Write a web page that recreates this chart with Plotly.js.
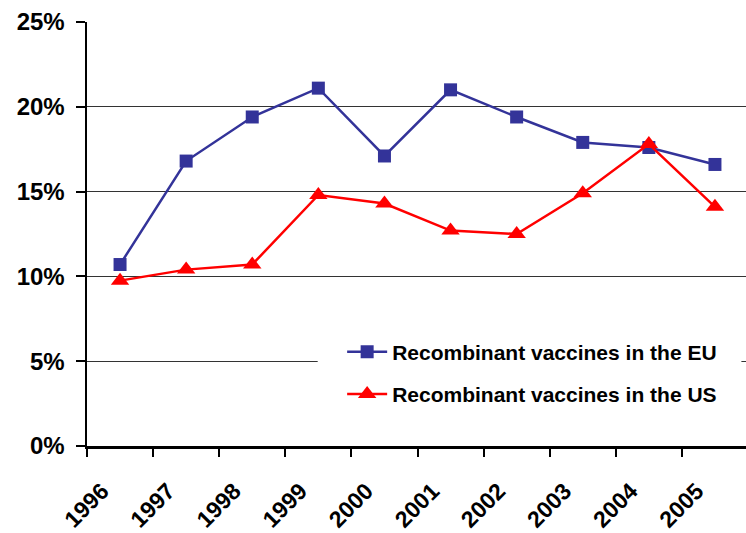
<!DOCTYPE html>
<html>
<head>
<meta charset="utf-8">
<script src="https://cdn.plot.ly/plotly-3.0.1.min.js"></script>
<style>
html,body{margin:0;padding:0;overflow:hidden;background:#fff;}
#chart{width:748px;height:533px;}
</style>
</head>
<body>
<div id="chart"></div>
<script>
const years = ["1996","1997","1998","1999","2000","2001","2002","2003","2004","2005"];
const euValues = [10.7, 16.8, 19.4, 21.1, 17.1, 21.0, 19.4, 17.9, 17.6, 16.6];
const usValues = [9.75, 10.4, 10.7, 14.8, 14.3, 12.7, 12.5, 14.9, 17.8, 14.1];
const yTickVals = [0, 5, 10, 15, 20, 25];
const yTickText = ["0%", "5%", "10%", "15%", "20%", "25%"];
const seriesNames = ["Recombinant vaccines in the EU", "Recombinant vaccines in the US"];

const FONT = "Liberation Sans, Arial, sans-serif";

const traces = [
  {
    x: years, y: euValues, name: seriesNames[0], type: "scatter", mode: "lines+markers",
    legendgroup: "eu",
    line: {color: "#333399", width: 2.5},
    marker: {symbol: "square", size: 13, color: "#333399"}
  },
  {
    x: years, y: usValues, name: seriesNames[1], type: "scatter", mode: "lines+markers",
    legendgroup: "us",
    line: {color: "#FF0000", width: 2.5},
    marker: {symbol: "triangle-up", size: 16, color: "#FF0000"}
  }
];

const layout = {
  width: 748, height: 533,
  margin: {l: 87, r: 0, t: 22, b: 87},
  paper_bgcolor: "#fff", plot_bgcolor: "#fff",
  font: {family: FONT, color: "#000"},
  showlegend: true,
  legend: {
    x: 0.386, xanchor: "left", y: 0.172, yanchor: "middle",
    bgcolor: "#fff", borderwidth: 0,
    font: {family: FONT, size: 21, color: "#000", weight: "bold"},
    tracegroupgap: 12,
    itemwidth: 40
  },
  shapes: [
    {type: "rect", xref: "paper", yref: "paper", x0: 0.349, x1: 0.99, y0: 0.1, y1: 0.25,
     fillcolor: "#fff", line: {width: 0}, layer: "above"}
  ],
  xaxis: {
    type: "category", range: [-0.5, 9.5], tickson: "boundaries",
    ticks: "outside", ticklen: 8, tickwidth: 2, tickcolor: "#000",
    showline: true, linecolor: "#000", linewidth: 2.5,
    showgrid: false, zeroline: false,
    tickangle: -45,
    ticklabelstandoff: 20, ticklabelshift: -18,
    tickfont: {family: FONT, size: 23, color: "#000", weight: "bold"}
  },
  yaxis: {
    range: [0, 25], tickvals: yTickVals, ticktext: yTickText,
    ticks: "outside", ticklen: 9, tickwidth: 2, tickcolor: "#000",
    showline: true, linecolor: "#000", linewidth: 2.5,
    showgrid: true, gridcolor: "#333", gridwidth: 1,
    zeroline: false, ticklabelstandoff: 6,
    tickfont: {family: FONT, size: 24, color: "#000", weight: "bold"}
  }
};

Plotly.newPlot("chart", traces, layout, {displayModeBar: false, staticPlot: true});
</script>
</body>
</html>
